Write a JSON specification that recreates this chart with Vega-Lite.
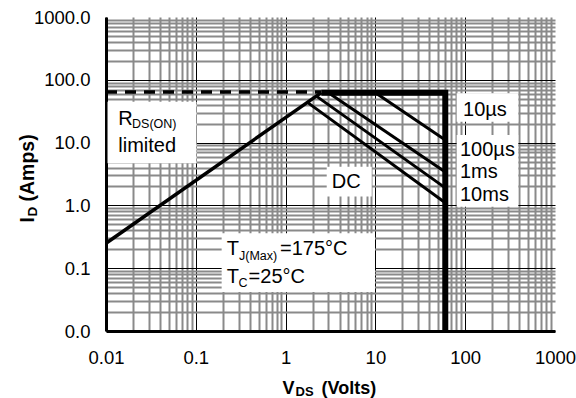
{
  "$schema": "https://vega.github.io/schema/vega-lite/v6.json",
  "autosize": {"type": "none"},
  "padding": {"left": 106, "top": 17, "right": 21, "bottom": 67},
  "width": 449,
  "height": 314,
  "background": "white",
  "config": {
    "view": {"stroke": null},
    "axis": {"labelFont": "Liberation Sans", "titleFont": "Liberation Sans", "labelColor": "black", "titleColor": "black"},
    "text": {"font": "Liberation Sans"}
  },
  "datasets": {
    "lines": [
      {"series": "Rds", "pt": 1, "V": 0.01, "I": 0.25},
      {"series": "Rds", "pt": 2, "V": 2.5, "I": 62.5},
      {"series": "Pkg", "pt": 1, "V": 0.01, "I": 64},
      {"series": "Pkg", "pt": 2, "V": 2.5, "I": 64},
      {"series": "Outline", "pt": 1, "V": 2.5, "I": 62},
      {"series": "Outline", "pt": 2, "V": 60, "I": 62},
      {"series": "Outline", "pt": 3, "V": 60, "I": 0.01},
      {"series": "10µs", "pt": 1, "V": 10, "I": 62},
      {"series": "10µs", "pt": 2, "V": 60, "I": 11},
      {"series": "100µs", "pt": 1, "V": 3.0, "I": 62},
      {"series": "100µs", "pt": 2, "V": 60, "I": 3.4},
      {"series": "1ms", "pt": 1, "V": 2.2, "I": 55},
      {"series": "1ms", "pt": 2, "V": 60, "I": 1.9},
      {"series": "DC", "pt": 1, "V": 1.75, "I": 43.7},
      {"series": "DC", "pt": 2, "V": 60, "I": 1.1}
    ],
    "boxes": [
      {"x1": 0.0104, "x2": 0.102, "y1": 4.68, "y2": 44.8},
      {"x1": 80.4, "x2": 390, "y1": 21.5, "y2": 61},
      {"x1": 80.4, "x2": 390, "y1": 0.953, "y2": 13.2},
      {"x1": 2.87, "x2": 9.1, "y1": 1.38, "y2": 4.13},
      {"x1": 0.194, "x2": 9.9, "y1": 0.0418, "y2": 0.36}
    ],
    "labels": [
      {"text": "R", "V": 0.01371, "I": 19.05},
      {"text": "limited", "V": 0.01371, "I": 7.16},
      {"text": "10µs", "V": 94.6, "I": 26.5},
      {"text": "100µs", "V": 87.5, "I": 6.18},
      {"text": "1ms", "V": 87.5, "I": 2.70},
      {"text": "10ms", "V": 87.5, "I": 1.19},
      {"text": "DC", "V": 3.26, "I": 1.91},
      {"text": "T", "V": 0.221, "I": 0.162},
      {"text": "=175°C", "V": 0.866, "I": 0.162},
      {"text": "T", "V": 0.221, "I": 0.0575},
      {"text": "=25°C", "V": 0.387, "I": 0.0575}
    ],
    "subs": [
      {"text": "DS(ON)", "V": 0.0195, "I": 16.9},
      {"text": "J(Max)", "V": 0.3029, "I": 0.135},
      {"text": "C", "V": 0.2995, "I": 0.0507}
    ]
  },
  "resolve": {"axis": {"x": "independent", "y": "independent"}},
  "layer": [
    {
      "data": {"name": "boxes"},
      "mark": {"type": "rect", "fill": "white", "stroke": null},
      "encoding": {
        "x": {"field": "x1", "type": "quantitative", "scale": {"type": "log", "domain": [0.01, 1000]},
          "axis": {"orient": "bottom", "values": [0.02,0.03,0.04,0.05,0.06,0.07,0.08,0.09,0.2,0.3,0.4,0.5,0.6,0.7,0.8,0.9,2,3,4,5,6,7,8,9,20,30,40,50,60,70,80,90,200,300,400,500,600,700,800,900],
            "grid": true, "gridColor": "#8a8a8a", "gridWidth": 2, "labels": false, "ticks": false, "domain": false, "title": null}},
        "x2": {"field": "x2"},
        "y": {"field": "y1", "type": "quantitative", "scale": {"type": "log", "domain": [0.01, 1000]},
          "axis": {"orient": "left", "values": [0.02,0.03,0.04,0.05,0.06,0.07,0.08,0.09,0.2,0.3,0.4,0.5,0.6,0.7,0.8,0.9,2,3,4,5,6,7,8,9,20,30,40,50,60,70,80,90,200,300,400,500,600,700,800,900],
            "grid": true, "gridColor": "#8a8a8a", "gridWidth": 2, "labels": false, "ticks": false, "domain": false, "title": null}},
        "y2": {"field": "y2"}
      }
    },
    {
      "data": {"name": "lines"},
      "transform": [{"filter": "datum.series === 'Rds'"}],
      "mark": {"type": "line", "color": "black", "strokeWidth": 3.5},
      "encoding": {
        "x": {"field": "V", "type": "quantitative", "scale": {"type": "log", "domain": [0.01, 1000]},
          "axis": {"orient": "bottom", "values": [0.01, 0.1, 1, 10, 100, 1000], "format": "~g",
            "grid": true, "gridColor": "black", "gridWidth": 1,
            "gridOpacity": {"condition": {"test": "datum.value >= 1000", "value": 0}, "value": 1},
            "ticks": false, "tickSize": 0, "domain": true, "domainColor": "black", "domainWidth": 3,
            "labelFontSize": 18.5, "labelPadding": 17, "labelFlush": false, "labelOverlap": false,
            "title": "V", "titleFontSize": 18, "titleFontWeight": "bold", "titleAlign": "left", "titleBaseline": "alphabetic", "titleX": 176, "titleY": 62}},
        "y": {"field": "I", "type": "quantitative", "scale": {"type": "log", "domain": [0.01, 1000]},
          "axis": {"orient": "left", "values": [0.01, 0.1, 1, 10, 100, 1000], "format": ".1f",
            "grid": true, "gridColor": "black", "gridWidth": 1,
            "gridOpacity": {"condition": {"test": "datum.value >= 1000", "value": 0}, "value": 1},
            "ticks": false, "tickSize": 0, "domain": true, "domainColor": "black", "domainWidth": 3,
            "labelFontSize": 18.5, "labelPadding": 16, "labelFlush": false, "labelOverlap": false,
            "title": "I", "titleFontSize": 19.5, "titleFontWeight": "bold", "titleAngle": 270, "titleAlign": "left", "titleBaseline": "alphabetic", "titleX": -73, "titleY": 205}},
        "order": {"field": "pt"}
      }
    },
    {
      "data": {"name": "lines"},
      "transform": [{"filter": "datum.series === 'Pkg'"}],
      "mark": {"type": "line", "color": "black", "strokeWidth": 3.5, "strokeDash": [11, 8]},
      "encoding": {
        "x": {"field": "V", "type": "quantitative", "scale": {"type": "log", "domain": [0.01, 1000]},
          "axis": {"orient": "bottom", "labels": false, "ticks": false, "domain": false, "grid": false,
            "title": "DS", "titleFontSize": 13, "titleFontWeight": "bold", "titleAlign": "left", "titleBaseline": "alphabetic", "titleX": 189, "titleY": 64}},
        "y": {"field": "I", "type": "quantitative", "scale": {"type": "log", "domain": [0.01, 1000]},
          "axis": {"orient": "left", "labels": false, "ticks": false, "domain": false, "grid": false,
            "title": "D", "titleFontSize": 13.5, "titleFontWeight": "bold", "titleAngle": 270, "titleAlign": "left", "titleBaseline": "alphabetic", "titleX": -69.5, "titleY": 199}},
        "order": {"field": "pt"}
      }
    },
    {
      "data": {"name": "lines"},
      "transform": [{"filter": "datum.series === 'Outline'"}],
      "mark": {"type": "line", "color": "black", "strokeWidth": 6, "strokeJoin": "miter"},
      "encoding": {
        "x": {"field": "V", "type": "quantitative", "scale": {"type": "log", "domain": [0.01, 1000]},
          "axis": {"orient": "bottom", "labels": false, "ticks": false, "domain": false, "grid": false,
            "title": "(Volts)", "titleFontSize": 18, "titleFontWeight": "bold", "titleAlign": "left", "titleBaseline": "alphabetic", "titleX": 215, "titleY": 62}},
        "y": {"field": "I", "type": "quantitative", "scale": {"type": "log", "domain": [0.01, 1000]},
          "axis": {"orient": "left", "labels": false, "ticks": false, "domain": false, "grid": false,
            "title": "(Amps)", "titleFontSize": 19.5, "titleFontWeight": "bold", "titleAngle": 270, "titleAlign": "left", "titleBaseline": "alphabetic", "titleX": -73, "titleY": 184}},
        "order": {"field": "pt"}
      }
    },
    {
      "data": {"name": "lines"},
      "transform": [{"filter": "datum.series !== 'Rds' && datum.series !== 'Pkg' && datum.series !== 'Outline'"}],
      "mark": {"type": "line", "color": "black", "strokeWidth": 3},
      "encoding": {
        "x": {"field": "V", "type": "quantitative", "scale": {"type": "log", "domain": [0.01, 1000]}, "axis": null},
        "y": {"field": "I", "type": "quantitative", "scale": {"type": "log", "domain": [0.01, 1000]}, "axis": null},
        "detail": {"field": "series"},
        "order": {"field": "pt"}
      }
    },
    {
      "data": {"name": "labels"},
      "mark": {"type": "text", "align": "left", "baseline": "alphabetic", "fontSize": 20, "color": "black"},
      "encoding": {
        "x": {"field": "V", "type": "quantitative", "scale": {"type": "log", "domain": [0.01, 1000]}, "axis": null},
        "y": {"field": "I", "type": "quantitative", "scale": {"type": "log", "domain": [0.01, 1000]}, "axis": null},
        "text": {"field": "text"}
      }
    },
    {
      "data": {"name": "subs"},
      "mark": {"type": "text", "align": "left", "baseline": "alphabetic", "fontSize": 12.5, "color": "black"},
      "encoding": {
        "x": {"field": "V", "type": "quantitative", "scale": {"type": "log", "domain": [0.01, 1000]}, "axis": null},
        "y": {"field": "I", "type": "quantitative", "scale": {"type": "log", "domain": [0.01, 1000]}, "axis": null},
        "text": {"field": "text"}
      }
    }
  ]
}
